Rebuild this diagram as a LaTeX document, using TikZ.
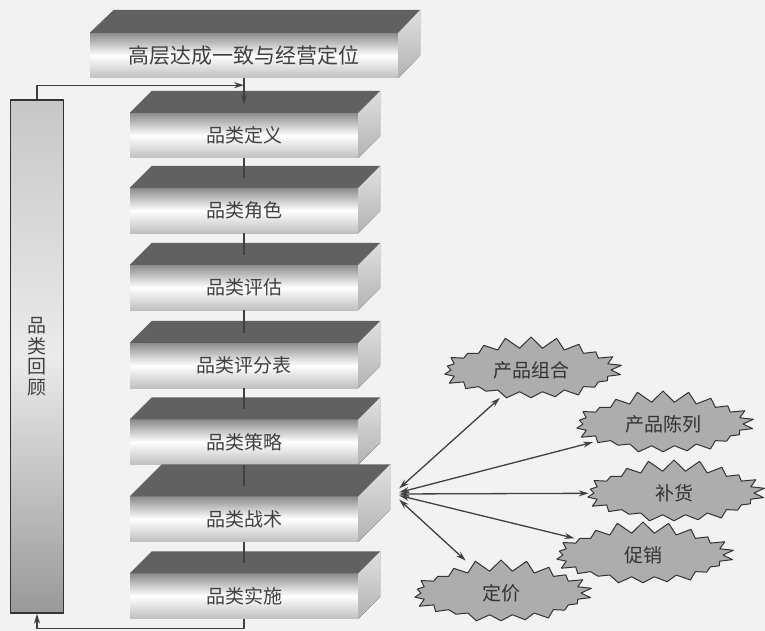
\documentclass[tikz,border=0pt]{standalone}
\usepackage{fontspec}
\setmainfont{Noto Sans CJK SC}
\usetikzlibrary{shapes.symbols,calc,arrows.meta}
\begin{document}
\begin{tikzpicture}[x=1pt,y=-1pt,>={Stealth[length=10pt,width=6pt]},line join=round,font=\fontsize{19}{20.5}\selectfont,
	front/.style={minimum width=228pt,minimum height=45pt,inner sep=0pt,top color=black!45,bottom color=black!25,middle color=white,text=black!75},
	topface/.style={fill=black!62},
	sideface/.style={top color=black!12,bottom color=black!30},
	burst/.style={starburst,starburst points=22,starburst point height=12pt,random starburst=30,minimum width=184pt,minimum height=68pt,fill=black!32,draw=black!80,line width=1pt,text=black!80},
	link/.style={draw=black!75,line width=1.3pt}]
	\pgfmathsetseed{7}
	\fill[black!5] (0,0) rectangle (765,631);
	\useasboundingbox (0,0) rectangle (765,631);
	% top box
	\node[front,minimum width=308pt,font=\fontsize{21}{24}\selectfont] (t) at (244,55.5) {高层达成一致与经营定位};
	\fill[topface] (t.north west) -- ++(24,-23) -- ([shift={(22,-23)}]t.north east) -- (t.north east) -- cycle;
	\fill[sideface] (t.north east) -- ++(22,-23) -- ([shift={(22,-23)}]t.south east) -- (t.south east) -- cycle;
	% steps
	\foreach \n/\y/\d/\txt in {1/135.5/22/品类定义,2/210.5/22/品类角色,3/287.5/22/品类评估,4/365.5/22/品类评分表,5/442/22/品类策略,6/519/32/品类战术,7/596/22/品类实施}{
		\node[front] (b\n) at (244,\y) {\txt};
		\fill[topface] (b\n.north west) -- ++(\d,-\d) -- ([shift={(\d,-\d)}]b\n.north east) -- (b\n.north east) -- cycle;
		\fill[sideface] (b\n.north east) -- ++(\d,-\d) -- ([shift={(\d,-\d)}]b\n.south east) -- (b\n.south east) -- cycle;
	}
	\draw[link,->,shorten >=8pt] (t.south) -- (b1.north);
	\foreach \a/\b in {1/2,2/3,3/4,4/5,5/6,6/7}
		\draw[link,shorten >=10pt] (b\a.south) -- (b\b.north);
	% review column
	\node[draw=black!80,line width=1.3pt,minimum width=53pt,minimum height=513pt,inner sep=0pt,top color=black!22,bottom color=black!40,middle color=black!8,text=black!75,align=center] (rv) at (37,356.5) {品\\类\\回\\顾};
	\coordinate (lp) at ($(t.south)+(0,7)$);
	\draw[link,->] (rv.north) |- (lp);
	\draw[link,->] (b7.south) -- ++(0,10) -| (rv.south);
	% tactics
	\node[burst] (pz) at (531,370) {产品组合};
	\node[burst] (pc) at (663,424) {产品陈列};
	\node[burst] (bh) at (674,493) {补货};
	\node[burst] (cx) at (643,555) {促销};
	\node[burst] (dj) at (501,593) {定价};
	\node[minimum size=12pt,inner sep=0pt] (hub) at (393,494) {};
	\foreach \s/\g in {pz/4,pc/4,bh/4,cx/4,dj/8}
		\draw[link,<->,shorten >=\g pt] (hub) -- (\s);
\end{tikzpicture}
\end{document}
